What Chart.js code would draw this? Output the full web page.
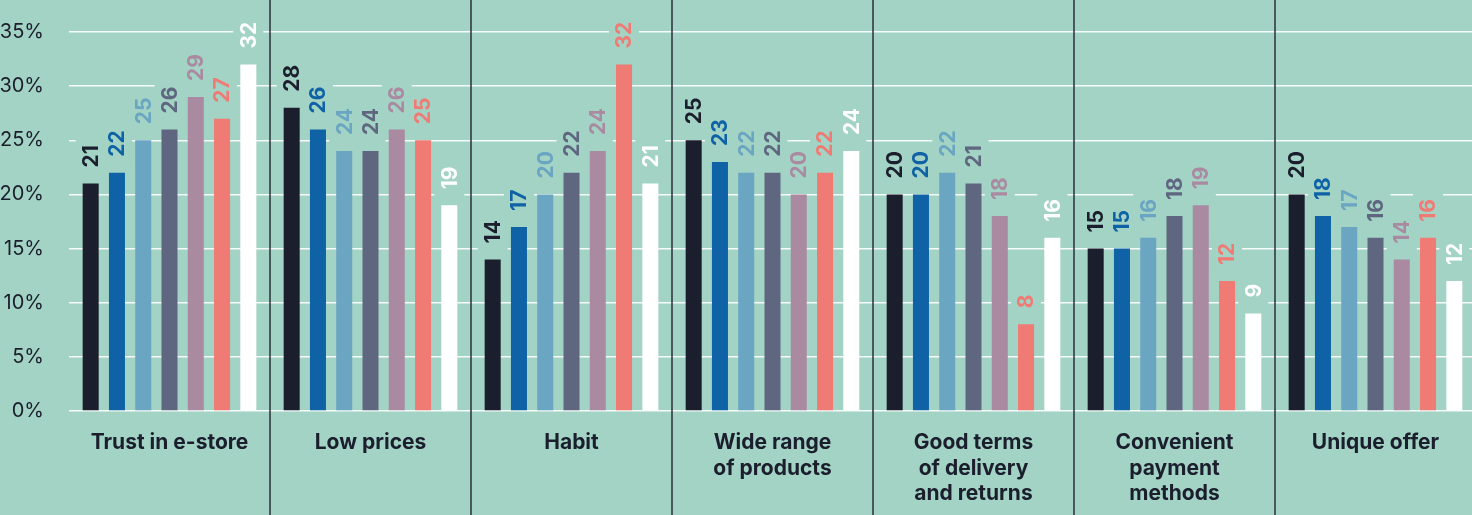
<!DOCTYPE html>
<html>
<head>
<meta charset="utf-8">
<script src="https://cdn.jsdelivr.net/npm/chart.js@4.4.1/dist/chart.umd.min.js"></script>
<style>
  html, body { margin: 0; padding: 0; background: #a3d3c4; overflow: hidden; }
  #wrap { width: 1472px; height: 515px; overflow: hidden; }
</style>
</head>
<body>
<div id="wrap"><canvas id="chart" width="1476" height="515"></canvas></div>
<script>
// categories and values
const categories = [
    'Trust in e-store',
    'Low prices',
    'Habit',
    ['Wide range', 'of products'],
    ['Good terms', 'of delivery', 'and returns'],
    ['Convenient', 'payment', 'methods'],
    'Unique offer'
];
const series1 = [21, 28, 14, 25, 20, 15, 20];
const series2 = [22, 26, 17, 23, 20, 15, 18];
const series3 = [25, 24, 20, 22, 22, 16, 17];
const series4 = [26, 24, 22, 22, 21, 18, 16];
const series5 = [29, 26, 24, 20, 18, 19, 14];
const series6 = [27, 25, 32, 22, 8, 12, 16];
const series7 = [32, 19, 21, 24, 16, 9, 12];
const yTicks = [0, 5, 10, 15, 20, 25, 30, 35];

const BG = '#a3d3c4';
const INK = '#1b1e2c';
const colors = ['#1b1e2c', '#0e62a5', '#6aa5c2', '#5f6780', '#aa8aa1', '#f07a74', '#ffffff'];
const allSeries = [series1, series2, series3, series4, series5, series6, series7];
const FONT = 'Inter, "Noto Sans", sans-serif';

// value labels, rotated, with a mask box behind them
const valueLabels = {
    id: 'valueLabels',
    afterDatasetsDraw(chart) {
        const ctx = chart.ctx;
        ctx.save();
        ctx.font = 'bold 21px ' + FONT;
        const items = [];
        chart.data.datasets.forEach((ds, i) => {
            chart.getDatasetMeta(i).data.forEach((bar, j) => {
                const text = String(ds.data[j]);
                const w = ctx.measureText(text).width;
                items.push({ x: bar.x, y: bar.y - 16, w, text, color: ds.backgroundColor });
            });
        });
        ctx.fillStyle = BG;
        items.forEach(it => ctx.fillRect(it.x - 15, it.y - it.w - 7, 30, it.w + 14));
        items.forEach(it => {
            ctx.save();
            ctx.translate(it.x + 1, it.y);
            ctx.rotate(-Math.PI / 2);
            ctx.textAlign = 'left';
            ctx.textBaseline = 'middle';
            ctx.fillStyle = it.color;
            ctx.fillText(it.text, 0, 0);
            ctx.restore();
        });
        ctx.restore();
    }
};

// dark vertical lines between categories
const separators = {
    id: 'separators',
    afterDraw(chart) {
        const ctx = chart.ctx;
        const xs = chart.scales.x;
        ctx.save();
        ctx.strokeStyle = '#2b3139';
        ctx.lineWidth = 1.5;
        for (let i = 0; i < categories.length - 1; i++) {
            const x = (xs.getPixelForValue(i) + xs.getPixelForValue(i + 1)) / 2;
            ctx.beginPath();
            ctx.moveTo(x, 0);
            ctx.lineTo(x, chart.height);
            ctx.stroke();
        }
        ctx.restore();
    }
};

new Chart(document.getElementById('chart'), {
    type: 'bar',
    data: {
        labels: categories,
        datasets: allSeries.map((d, i) => ({
            label: 'Series ' + (i + 1),
            data: d,
            backgroundColor: colors[i],
            borderWidth: 0,
            barPercentage: 0.61,
            categoryPercentage: 0.915
        }))
    },
    options: {
        responsive: false,
        animation: false,
        devicePixelRatio: 1,
        layout: { padding: { top: 32, left: 0, right: 0, bottom: 0 } },
        plugins: {
            legend: { display: false },
            tooltip: { enabled: false }
        },
        scales: {
            x: {
                grid: { display: false, drawTicks: false },
                border: { display: false },
                ticks: {
                    color: INK,
                    padding: 19,
                    maxRotation: 0,
                    autoSkip: false,
                    font: { family: FONT, size: 21, weight: 'bold', lineHeight: 1.22 }
                },
                afterFit(scale) {
                    scale.height = 104;
                    scale.paddingLeft = 0;
                    scale.paddingRight = 0;
                }
            },
            y: {
                min: 0,
                max: 35,
                afterBuildTicks(scale) { scale.ticks = yTicks.map(v => ({ value: v })); },
                grid: { color: 'rgba(255,255,255,0.9)', lineWidth: 1.5, drawTicks: false },
                border: { display: false },
                ticks: {
                    color: INK,
                    padding: 25,
                    font: { family: FONT, size: 20 },
                    callback: v => v + '%'
                },
                afterFit(scale) {
                    scale.width = 69;
                    scale.paddingTop = 0;
                    scale.paddingBottom = 0;
                }
            }
        }
    },
    plugins: [valueLabels, separators]
});
</script>
</body>
</html>
